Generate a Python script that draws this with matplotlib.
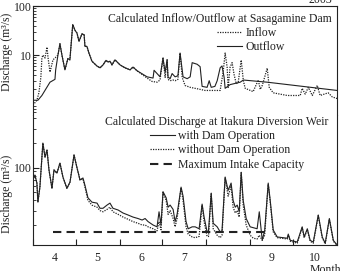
# Sasagamine Dam inflow/outflow and Itakura weir discharge, 2003

import matplotlib
matplotlib.use('Agg')
from matplotlib import pyplot as plt
import numpy as np

plt.rcParams['font.family'] = ['Liberation Serif', 'DejaVu Serif']
plt.rcParams['font.size'] = 8.5

# day counted from April 1
inflow = [(0, 0.95), (2.8, 1.2), (4.2, 1.7), (5.6, 3.6), (6.3, 8.7), (7, 10), (8.5, 8.7),
          (9.9, 14.5), (10.6, 9), (12, 4.5), (14.1, 8), (15.5, 8.7), (17.6, 10), (19, 17),
          (20.4, 10), (22.5, 5), (24.6, 8.5), (26, 8), (28, 42), (29.6, 32), (31, 28),
          (32.4, 19), (34.5, 27), (36, 26), (36.6, 15), (38, 15), (39.4, 11), (41.5, 7.5),
          (45, 6), (47.2, 5.5), (49.3, 6.3), (51.4, 7.8), (52.8, 7.2), (54.2, 7.5),
          (55.6, 6.3), (57.7, 8), (61.3, 6.3), (64.8, 5.5), (68.3, 5), (70.4, 5.7),
          (73.2, 4.8), (80.3, 3.4), (83.8, 2.9), (87.3, 2.8), (89.4, 3.1), (91.5, 9),
          (93, 3.5), (94.4, 8), (95, 3.2), (96.5, 3), (98.6, 3.1), (100, 3), (102, 3.2),
          (103.5, 11), (105, 3.5), (107, 2.4), (110.6, 2.2), (117.6, 2.0), (121, 1.9),
          (126.8, 1.9), (131.7, 1.9), (133.8, 4.5), (135.2, 11), (136.6, 5.7), (137.3, 2.2),
          (138.7, 5.7), (140.1, 7), (141.5, 4), (143, 2.6), (144.4, 2.8), (146.5, 7.9),
          (148, 3), (149.3, 2.1), (154.9, 1.8), (158.5, 3.1), (159.9, 2.0), (161.3, 2.4),
          (164.8, 5.4), (166.2, 2.2), (169, 1.7), (178.9, 1.5), (188, 1.5), (189.4, 2.1),
          (191.5, 1.6), (193.7, 2.2), (196.5, 1.5), (200, 2.4), (202, 1.5), (207.7, 1.7),
          (210.6, 1.4), (214, 1.3)]

outflow = [(0, 1.2), (3.5, 1.2), (6.3, 1.5), (12, 2.8), (15.5, 3.2), (16, 5), (17.6, 10),
           (19, 17), (20.4, 10), (22.5, 5), (24.6, 8.5), (26, 8), (28, 42), (29.6, 32),
           (31, 28), (32.4, 19), (34.5, 27), (36, 26), (36.6, 15), (38, 15), (39.4, 11),
           (41.5, 7.5), (45, 6), (47.2, 5.5), (49.3, 6.3), (51.4, 7.8), (52.8, 7.2),
           (54.2, 7.5), (55.6, 6.3), (57.7, 8), (61.3, 6.3), (64.8, 5.5), (68.3, 5),
           (70.4, 5.7), (73.2, 4.8), (80.3, 3.6), (84.5, 3.4), (85.2, 4.9), (87.3, 4.2),
           (89.4, 3.6), (91.5, 8.5), (93, 4.5), (94.4, 8), (95, 3.6), (96.5, 3.3),
           (97.9, 4.2), (100, 3.6), (102, 3.8), (103.5, 11), (105.6, 3.6), (108.5, 3.3),
           (110.6, 3.6), (112, 7), (115.5, 6.5), (117.6, 5.8), (119, 2.3), (122.5, 2.2),
           (124, 3), (125.4, 2.2), (128, 2.3), (129.6, 3), (131.7, 5.5), (133, 6),
           (134.5, 3.5), (135.2, 2.1), (138.7, 2.5), (145.8, 2.8), (148, 3.1),
           (164.8, 2.8), (214, 1.9)]

with_dam = [(0, 71), (1.4, 81), (2.8, 65), (3.5, 38), (4.9, 58), (7, 200), (8.5, 135),
            (9.9, 164), (11.3, 94), (13.4, 56), (14.8, 94), (16.9, 86), (19, 114),
            (21.1, 77), (23.9, 56), (26.1, 67), (28.9, 143), (31, 100), (33.1, 71),
            (35.2, 75), (36.6, 61), (38.7, 43), (41.5, 38), (45.1, 37), (47.2, 32),
            (49.3, 32), (52.1, 35), (54.2, 37), (56.3, 32), (59.9, 30.5), (63.4, 28),
            (66.9, 26.5), (70.4, 25), (73.9, 24), (76.8, 23), (78.9, 24), (81, 22),
            (84.5, 20), (87.3, 19), (88.7, 29), (90.1, 20), (91.5, 51), (93.7, 43),
            (95.1, 33), (96.5, 35), (98.6, 31), (100, 22), (101.4, 27), (104.2, 58),
            (105.6, 45), (107.7, 22), (109.2, 18), (112, 19), (114.1, 19), (116.9, 18),
            (119, 36), (120.4, 25), (122.5, 16.5), (123.5, 17), (125.4, 49), (126.8, 21),
            (129.6, 19), (131.7, 16.5), (133, 17), (135.2, 77), (137.3, 53), (139.4, 65),
            (140.8, 40), (142.3, 33), (143.7, 35), (145.1, 29), (146.5, 88), (147.9, 40),
            (150, 24), (152.8, 19), (157.7, 18), (159.2, 29), (161.3, 13.1), (163, 17),
            (165.5, 65), (166.9, 40), (169, 17.4), (171.8, 14.3), (178.9, 13.8),
            (179.6, 15.5), (181, 13), (185.9, 12.4), (189.4, 19), (190.8, 14.3), (193, 18),
            (195, 13), (197.2, 12.4), (200.7, 26.5), (203.5, 14.3), (205.6, 12),
            (208.5, 24), (211.3, 13), (214, 11.4)]

without_dam = [(0, 71), (1.4, 81), (2.8, 65), (3.5, 38), (4.9, 58), (7, 200), (8.5, 135),
               (9.9, 164), (11.3, 94), (13.4, 56), (14.8, 94), (16.9, 86), (19, 114),
               (21.1, 77), (23.9, 56), (26.1, 67), (28.9, 143), (31, 100), (33.1, 71),
               (35.2, 73), (36.6, 58), (38.7, 40), (41.5, 35), (45.1, 33), (47.2, 30),
               (49.3, 29), (52.1, 31), (54.2, 33), (56.3, 29), (59.9, 27), (63.4, 25),
               (66.9, 23.5), (70.4, 22), (73.9, 21), (76.8, 20), (78.9, 20), (81, 19),
               (84.5, 18), (87.3, 17), (88.7, 22), (90.1, 17.5), (91.5, 50), (93.7, 40),
               (95.1, 27), (96.5, 30), (98.6, 24), (100, 19), (101.4, 24), (104.2, 57),
               (105.6, 40), (107.7, 19), (109.2, 15.5), (112, 14.3), (114.1, 14),
               (116.9, 14.5), (119, 35), (120.4, 22), (122.5, 14.5), (123.5, 14.5),
               (125.4, 48), (126.8, 18), (129.6, 15), (131.7, 14), (133, 15), (135.2, 75),
               (137.3, 45), (139.4, 60), (140.8, 33), (142.3, 28), (143.7, 30), (145.1, 25),
               (146.5, 87), (147.9, 35), (150, 20), (152.8, 15), (155, 13.8), (157.7, 13.5),
               (159.2, 15), (161.3, 13), (163, 15), (165.5, 63), (166.9, 38), (169, 16.5),
               (171.8, 14), (178.9, 13.5), (179.6, 15), (181, 12.7), (185.9, 12),
               (189.4, 18.5), (190.8, 14), (193, 17.5), (195, 12.7), (197.2, 12),
               (200.7, 26), (203.5, 14), (205.6, 11.8), (208.5, 23.5), (211.3, 12.7),
               (214, 11.2)]

intake_days = [14, 163]
intake_cap = 16.5

month_start = [0, 30, 61, 91, 122, 153, 183, 214]
month_names = ['4', '5', '6', '7', '8', '9', '10']

fig = plt.figure(figsize=(3.43, 2.71), dpi=100)
ax1 = fig.add_axes([0.096, 0.5756, 0.887, 0.4022])
ax2 = fig.add_axes([0.096, 0.0959, 0.887, 0.4797])

col = '#222222'
d, v = zip(*inflow)
ax1.plot(d, v, ls=(0, (1, 1)), color=col, lw=0.9, label='Inflow')
d, v = zip(*outflow)
ax1.plot(d, v, '-', color=col, lw=0.8, label='Outflow')

d, v = zip(*with_dam)
ax2.plot(d, v, '-', color=col, lw=0.8, label='with Dam Operation')
d, v = zip(*without_dam)
ax2.plot(d, v, ls=(0, (1, 1)), color=col, lw=0.9, label='without Dam Operation')
ax2.plot(intake_days, [intake_cap, intake_cap], ls=(0, (4, 2.5)), color=col, lw=1.5,
         label='Maximum Intake Capacity')

for ax in (ax1, ax2):
    ax.set_yscale('log')
    ax.set_xlim(0, 214)
    ax.tick_params(which='both', direction='in', colors=col, labelsize=8.5)
    ax.tick_params(which='major', length=4)
    ax.tick_params(which='minor', length=2)
    ax.set_ylabel('Discharge (m³/s)', fontsize=8.5, color=col)
    for s in ax.spines.values():
        s.set_color(col)
        s.set_linewidth(0.8)

ax1.set_ylim(0.6, 100)
ax2.set_ylim(11.4, 440)
ax1.spines['bottom'].set_visible(False)
ax2.spines['top'].set_visible(False)
ax1.set_xticks([])
ax1.set_xticks([], minor=True)

ax2.set_xticks(month_start)
ax2.set_xticklabels([])
centers = [(month_start[i] + month_start[i + 1]) / 2 for i in range(7)]
ax2.set_xticks(centers, minor=True)
ax2.set_xticklabels(month_names, minor=True)
ax2.tick_params(axis='x', which='minor', length=0, pad=5)

ax1.set_yticks([10, 100])
ax1.set_yticklabels(['10', '100'])
ax2.set_yticks([100])
ax2.set_yticklabels(['100'])
ax1.yaxis.set_label_coords(-0.065, 0.58)
ax2.yaxis.set_label_coords(-0.065, 0.39)
ax1.tick_params(axis='y', pad=1)
ax2.tick_params(axis='y', pad=1)

ax1.text(0.614, 0.881, 'Calculated Inflow/Outflow at Sasagamine Dam', transform=ax1.transAxes,
         ha='center', va='center', color=col)
ax1.legend(loc='upper left', bbox_to_anchor=(0.605, 0.81), frameon=False, borderpad=0,
           borderaxespad=0, handlelength=2.1, handletextpad=0.3, labelspacing=0.2,
           fontsize=8.5, labelcolor=col)

ax2.text(0.604, 0.946, 'Calculated Discharge at Itakura Diversion Weir', transform=ax2.transAxes,
         ha='center', va='center', color=col)
ax2.legend(loc='upper left', bbox_to_anchor=(0.385, 0.885), frameon=False, borderpad=0,
           borderaxespad=0, handlelength=2.1, handletextpad=0.3, labelspacing=0.2,
           fontsize=8.5, labelcolor=col)

fig.text(0.933, 1.0, '2003', ha='center', va='center', color=col, fontsize=8.5)
fig.text(0.95, 0.002, 'Month', ha='center', va='center', color=col, fontsize=8.5)

fig.savefig('out.png', dpi=100)
